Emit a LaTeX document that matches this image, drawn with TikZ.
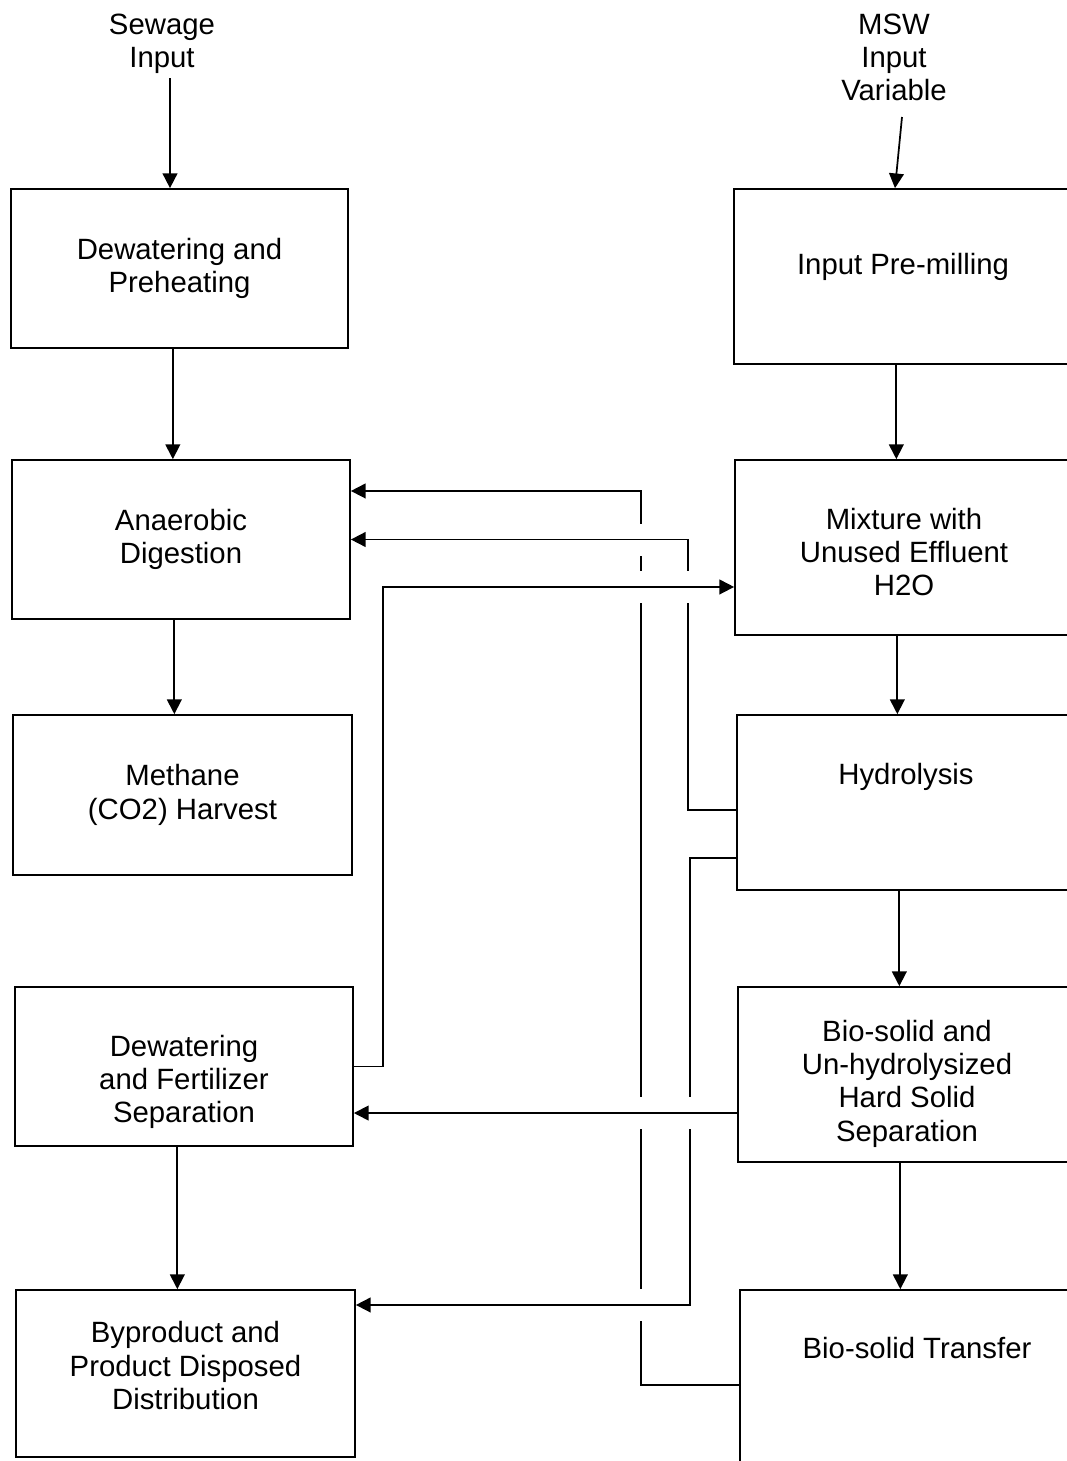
\documentclass[tikz,border=0pt]{standalone}
\usepackage{fontspec}
\setmainfont{Liberation Sans}
\usetikzlibrary{arrows.meta}

\tikzset{
  blk/.style={draw, line width=1.3pt, minimum width=253.5pt, minimum height=131.25pt,
    align=center, inner sep=2pt, font=\fontsize{22}{25}\selectfont},
  lbl/.style={align=center, inner sep=0pt, font=\fontsize{22}{25}\selectfont},
  arr/.style={line width=1.3pt, -{Triangle[length=11pt,width=11pt]}},
  gap/.style={fill=white}
}

\begin{document}
\begin{tikzpicture}[x=0.75pt, y=-0.75pt]
\useasboundingbox (0,0) rectangle (1067,1461);
\clip (0,0) rectangle (1067,1461);

% inputs
\node[lbl] (sew) at (162,43.5) {Sewage\\Input};
\node[lbl] (msw) at (894,57.5) {MSW\\Input\\Variable};

% sewage line
\node[blk, minimum width=252.75pt, minimum height=119.25pt] (dwp) at (179.5,268.5) {Dewatering and\\Preheating};
\node[blk, minimum height=119.25pt] (ad) at (181,539.5) {Anaerobic\\Digestion};
\node[blk, minimum width=254.25pt, minimum height=120pt] (mh) at (182.5,795) {Methane\\(CO2) Harvest};
\node[blk, minimum height=119.25pt, text height=89.1pt] (dfs) at (184,1066.5) {Dewatering\\and Fertilizer\\Separation};
\node[blk, minimum width=254.25pt, minimum height=125.25pt, text depth=12pt] (byp) at (185.5,1373.5) {Byproduct and\\Product Disposed\\Distribution};

% MSW line
\node[blk, text depth=18.9pt] (ipm) at (903,276.5) {Input Pre-milling};
\node[blk, text height=72.5pt] (mix) at (904,547.5) {Mixture with\\Unused Effluent\\H2O};
\node[blk, text depth=42.9pt] (hyd) at (906,802.5) {Hydrolysis};
\node[blk, text height=104.5pt] (bss) at (907,1074.5) {Bio-solid and\\Un-hydrolysized\\Hard Solid\\Separation};
\node[blk, minimum width=265.5pt, text depth=44pt] (bst) at (917,1377.5) {Bio-solid Transfer};

% input arrows
\coordinate (sew-o) at (170,78);
\coordinate (msw-o) at (902,117);
\draw[arr] (sew-o) -- (sew-o |- dwp.north);
\draw[arr] (msw-o) -- ([xshift=-6pt]ipm.north);

% down the columns
\foreach \a/\b in {dwp/ad, ad/mh, dfs/byp, ipm/mix, mix/hyd, hyd/bss, bss/bst}
  { \draw[arr] ([xshift=-5pt]\a.south) -- ([xshift=-5pt]\a.south |- \b.north); };

% return lines
\coordinate (laneA) at (641,0);
\coordinate (laneB) at (688,0);
\coordinate (laneC) at (690,0);
\coordinate (laneD) at (383,0);
\coordinate (bst-o) at ([yshift=-5.6pt]bst.west);
\coordinate (ad-i) at ([yshift=36.4pt]ad.east);
\coordinate (hyd-o1) at ([yshift=-5.6pt]hyd.west);
\coordinate (hyd-o2) at ([yshift=-41.6pt]hyd.west);
\coordinate (byp-i) at ([yshift=51.4pt]byp.east);
\coordinate (mix-i) at ([yshift=-29.6pt]mix.west);
\coordinate (bss-o) at ([yshift=-28.9pt]bss.west);

\draw[arr] (bst-o) -| (laneA |- ad-i) -- (ad-i);
\foreach \x/\y in {641/540, 641/1305} { \fill[gap] (\x-5,\y-16) rectangle (\x+5,\y+16); };
\draw[arr] (hyd-o1) -| (laneB |- ad.east) -- (ad.east);
\draw[arr] (hyd-o2) -| (laneC |- byp-i) -- (byp-i);
\foreach \x/\y in {641/587, 688/587, 641/1113, 690/1113} { \fill[gap] (\x-5,\y-16) rectangle (\x+5,\y+16); };
\draw[arr] (dfs.east) -| (laneD |- mix-i) -- (mix-i);
\draw[arr] (bss-o) -- (bss-o -| dfs.east);
\end{tikzpicture}
\end{document}
